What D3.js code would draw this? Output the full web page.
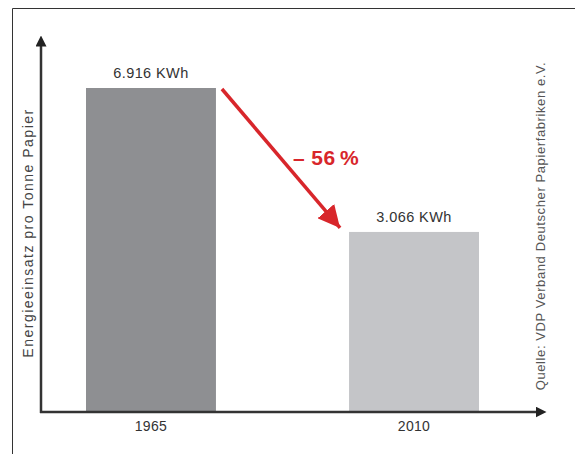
<!DOCTYPE html>
<html>
<head>
<meta charset="utf-8">
<script src="https://cdn.jsdelivr.net/npm/d3@7"></script>
<style>
body{margin:0;background:#fff;}
text{font-family:"Liberation Sans",Arial,sans-serif;}
</style>
</head>
<body>
<svg id="chart" width="575" height="454"></svg>
<script>
let years=["1965","2010"]
let values=[6916,3066]
let valueLabels=["6.916 KWh","3.066 KWh"]
let changeLabel="\u2013 56\u2009%"
let yTitle="Energieeinsatz pro Tonne Papier"
let source="Quelle: VDP Verband Deutscher Papierfabriken e.V."

let svg=d3.select("#chart")

// frame
svg.append("path")
	.attr("d","M12.5,454 V8.5 H575")
	.attr("fill","none")
	.attr("stroke","#333")
	.attr("stroke-width",1)

let x0=41, y0=412
let x=d3.scaleBand()
	.domain(years)
	.range([86,479])
	.paddingInner(0.506)
	.paddingOuter(0)
// chart is not drawn from zero in the original
let y=d3.scaleLinear()
	.domain([-1750,6916])
	.range([y0,88])

svg.append("defs").append("marker")
	.attr("id","ah")
	.attr("viewBox","0 0 10 10")
	.attr("refX",5).attr("refY",5)
	.attr("markerWidth",11).attr("markerHeight",11)
	.attr("markerUnits","userSpaceOnUse")
	.attr("orient","auto")
	.append("path").attr("d","M0,0 L10,5 L0,10 z").attr("fill","#222")

let colors=["#8e8f92","#c4c5c8"]
svg.selectAll("rect.bar")
	.data(values)
	.enter().append("rect")
	.attr("class","bar")
	.attr("x",(d,i)=>x(years[i]))
	.attr("width",x.bandwidth())
	.attr("y",d=>y(d))
	.attr("height",d=>y0-y(d))
	.attr("fill",(d,i)=>colors[i])

svg.selectAll("text.val")
	.data(values)
	.enter().append("text")
	.attr("class","val")
	.attr("x",(d,i)=>x(years[i])+x.bandwidth()/2)
	.attr("y",d=>y(d)-10)
	.attr("text-anchor","middle")
	.attr("font-size",14.5)
	.attr("letter-spacing",0.4)
	.attr("fill","#333")
	.text((d,i)=>valueLabels[i])

// axes
svg.append("line")
	.attr("x1",x0).attr("y1",y0+1).attr("x2",x0).attr("y2",41)
	.attr("stroke","#333").attr("stroke-width",2.5)
	.attr("marker-end","url(#ah)")
svg.append("line")
	.attr("x1",x0-1).attr("y1",y0).attr("x2",541).attr("y2",y0)
	.attr("stroke","#333").attr("stroke-width",2.5)
	.attr("marker-end","url(#ah)")

svg.selectAll("text.year")
	.data(years)
	.enter().append("text")
	.attr("class","year")
	.attr("x",d=>x(d)+x.bandwidth()/2)
	.attr("y",431)
	.attr("text-anchor","middle")
	.attr("font-size",14)
	.attr("letter-spacing",0.3)
	.attr("fill","#333")
	.text(d=>d)

svg.append("text")
	.attr("transform","translate(33,233) rotate(-90)")
	.attr("text-anchor","middle")
	.attr("font-size",14)
	.attr("letter-spacing",1.5)
	.attr("fill","#444")
	.text(yTitle)

svg.append("text")
	.attr("transform","translate(545,226) rotate(-90)")
	.attr("text-anchor","middle")
	.attr("font-size",13)
	.attr("letter-spacing",0.6)
	.attr("fill","#555")
	.text(source)

// red arrow
svg.select("defs").append("marker")
	.attr("id","red")
	.attr("viewBox","0 0 10 10")
	.attr("refX",10).attr("refY",5)
	.attr("markerWidth",22).attr("markerHeight",22)
	.attr("markerUnits","userSpaceOnUse")
	.attr("orient","auto")
	.append("path").attr("d","M0,0 L10,5 L0,10 z").attr("fill","#d8262b")
svg.append("line")
	.attr("x1",x(years[0])+x.bandwidth()+6).attr("y1",y(values[0])+1)
	.attr("x2",x(years[1])-9).attr("y2",y(values[1])-4)
	.attr("stroke","#d8262b").attr("stroke-width",3.5)
	.attr("marker-end","url(#red)")

svg.append("text")
	.attr("x",293).attr("y",165)
	.attr("font-size",21)
	.attr("font-weight","bold")
	.attr("letter-spacing",0.4)
	.attr("fill","#d8262b")
	.text(changeLabel)
</script>
</body>
</html>
